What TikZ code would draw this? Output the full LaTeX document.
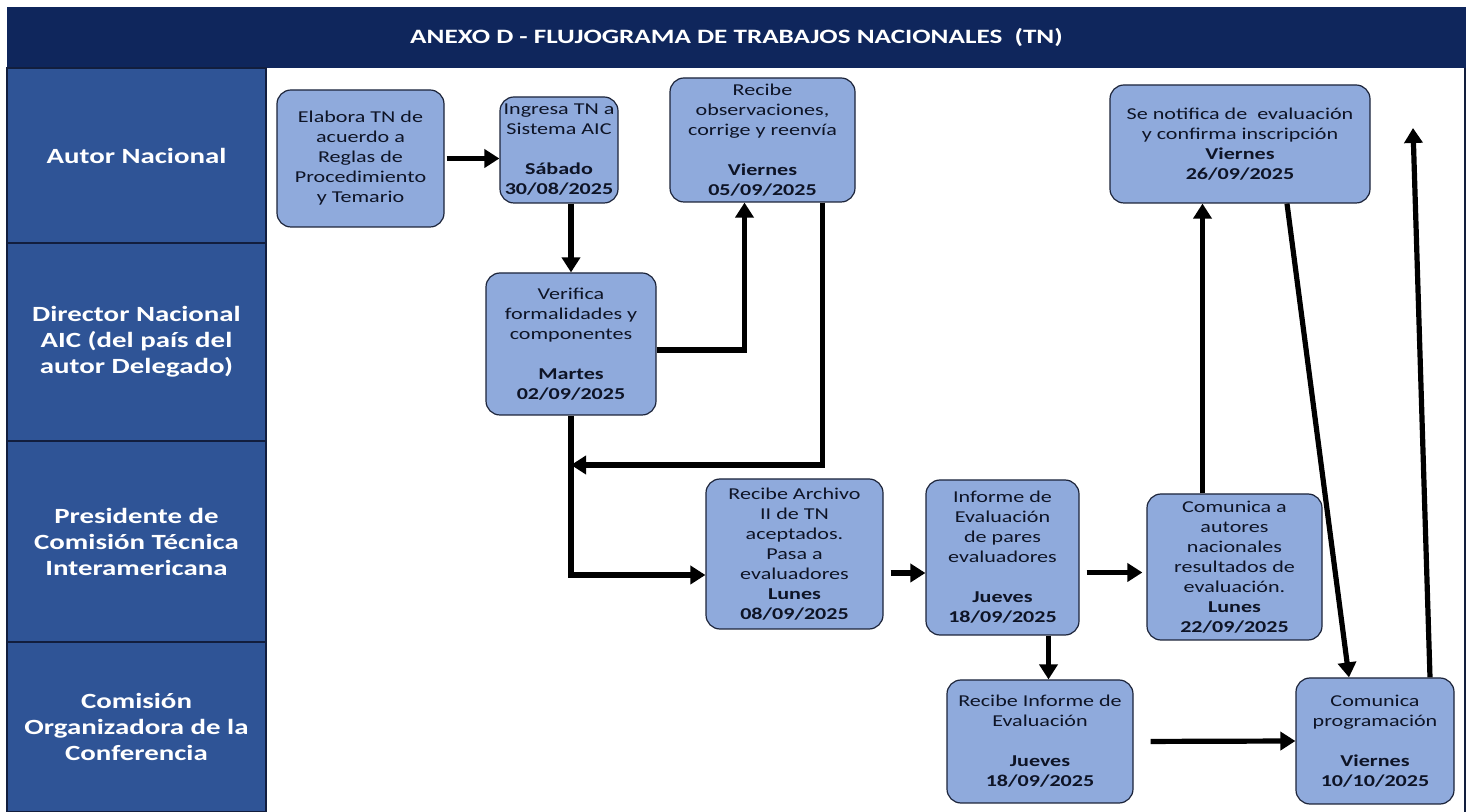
\documentclass[tikz,border=0pt]{standalone}
\usepackage{fontspec}
\setmainfont[FakeStretch=1.33]{Carlito}
\usetikzlibrary{arrows.meta}
\definecolor{titulo}{RGB}{15,38,92}
\definecolor{carrilazul}{RGB}{47,84,150}
\definecolor{caja}{RGB}{143,170,220}
\definecolor{borde}{RGB}{28,36,58}
\definecolor{letra}{RGB}{14,20,38}
\definecolor{linea}{RGB}{18,30,62}

\begin{document}
\begin{tikzpicture}[x=0.5pt,y=-0.5pt,
		carril/.style={draw=linea, line width=1.2pt, fill=carrilazul, text=white, align=center,
			font=\bfseries\fontsize{10.85}{13}\selectfont, minimum width=129.5pt, inner sep=0pt},
		paso/.style={draw=borde, line width=0.6pt, fill=caja, rounded corners=7pt, align=center,
			text=letra, font=\fontsize{8.3}{10}\selectfont, inner sep=1pt},
		flecha/.style={line width=2.6pt, -{Triangle[length=7.5pt,width=9pt]}}]
			%%%%% START %%%%%
			
			\useasboundingbox (0,0) rectangle (1469,812);
			\fill[white] (0,0) rectangle (1469,812);
			
			\node[fill=titulo, text=white, font=\bfseries\fontsize{10.2}{12}\selectfont,
				minimum width=729.5pt, minimum height=30.5pt, inner sep=0pt] (titulo) at (736.5,37.5)
				{ANEXO D - FLUJOGRAMA DE TRABAJOS NACIONALES\ \ (TN)};
			\draw[linea, line width=0.8pt] (1465,68) -- (1465,812);
			
			\node[carril, minimum height=87.5pt] (autor) at (136.5,155.5) {Autor Nacional};
			\node[carril, minimum height=99pt] (director) at (136.5,342) {Director Nacional\\AIC (del país del\\autor Delegado)};
			\node[carril, minimum height=100.5pt] (presidente) at (136.5,541.5) {Presidente de\\Comisión Técnica\\Interamericana};
			\node[carril, minimum height=85pt] (comision) at (136.5,727) {Comisión\\Organizadora de la\\Conferencia};
			
			\node[paso, minimum width=83.5pt, minimum height=68.5pt] (elabora) at (360.5,158.5)
				{Elabora TN de\\acuerdo a\\Reglas de\\Procedimiento\\y Temario};
			\node[paso, minimum width=59pt, minimum height=53pt] (ingresa) at (559,150)
				{Ingresa TN a\\Sistema AIC\\[10pt]\textbf{Sábado}\\\textbf{30/08/2025}};
			\node[paso, minimum width=92.5pt, minimum height=62pt] (recobs) at (762.5,140)
				{Recibe\\observaciones,\\corrige y reenvía\\[10pt]\textbf{Viernes}\\\textbf{05/09/2025}};
			\node[paso, minimum width=85pt, minimum height=71pt] (verifica) at (571,344)
				{Verifica\\formalidades y\\componentes\\[10pt]\textbf{Martes}\\\textbf{02/09/2025}};
			\node[paso, minimum width=130pt, minimum height=59pt] (notifica) at (1240,144)
				{Se notifica de\ \ evaluación\\y confirma inscripción\\\textbf{Viernes}\\\textbf{26/09/2025}};
			\node[paso, minimum width=88.5pt, minimum height=75pt] (archivo) at (794.5,554)
				{Recibe Archivo\\II de TN\\aceptados.\\Pasa a\\evaluadores\\\textbf{Lunes}\\\textbf{08/09/2025}};
			\node[paso, minimum width=76.5pt, minimum height=77.5pt] (informe) at (1002.5,557.5)
				{Informe de\\Evaluación\\de pares\\evaluadores\\[10pt]\textbf{Jueves}\\\textbf{18/09/2025}};
			\node[paso, minimum width=87.5pt, minimum height=73pt] (comunica) at (1234.5,567)
				{Comunica a\\autores\\nacionales\\resultados de\\evaluación.\\\textbf{Lunes}\\\textbf{22/09/2025}};
			\node[paso, minimum width=93pt, minimum height=61.5pt] (recinf) at (1040,741.5)
				{Recibe Informe de\\Evaluación\\[10pt]\textbf{Jueves}\\\textbf{18/09/2025}};
			\node[paso, minimum width=79pt, minimum height=63pt] (programa) at (1375,741)
				{Comunica\\programación\\[10pt]\textbf{Viernes}\\\textbf{10/10/2025}};
			
			\coordinate (junta) at (571,465);
			\coordinate (salida) at (1413,128);
			
			\draw[flecha, shorten <=1pt] (elabora.east) -- (elabora.east -| ingresa.west);
			\draw[flecha] (verifica.north |- ingresa.south) -- (verifica.north);
			\draw[flecha] ([yshift=-3pt]verifica.east) -| ([xshift=-9pt]recobs.south);
			\draw[flecha] ([xshift=30pt]recobs.south) |- (junta);
			\draw[flecha] (verifica.south) |- ([yshift=-10.5pt]archivo.west);
			\draw[flecha, shorten <=3.5pt] ([yshift=-9.5pt]archivo.east) -- ([yshift=-9.5pt]archivo.east -| informe.west);
			\draw[flecha, shorten <=3.5pt, shorten >=2pt] ([yshift=-7.5pt]informe.east) -- ([yshift=-7.5pt]informe.east -| comunica.west);
			\draw[flecha] ([xshift=23pt]informe.south) -- ([xshift=23pt]informe.south |- recinf.north);
			\draw[flecha] ([xshift=-16pt]comunica.north) -- ([xshift=-16pt]comunica.north |- notifica.south);
			\draw[flecha] ([xshift=23.5pt]notifica.south) -- ([xshift=-13pt]programa.north);
			\draw[flecha, shorten <=8.5pt] (recinf.east) -- (programa.west);
			\draw[flecha] ([xshift=27.5pt]programa.north) -- (salida);
			
			%%%%% END %%%%%
\end{tikzpicture}
\end{document}
